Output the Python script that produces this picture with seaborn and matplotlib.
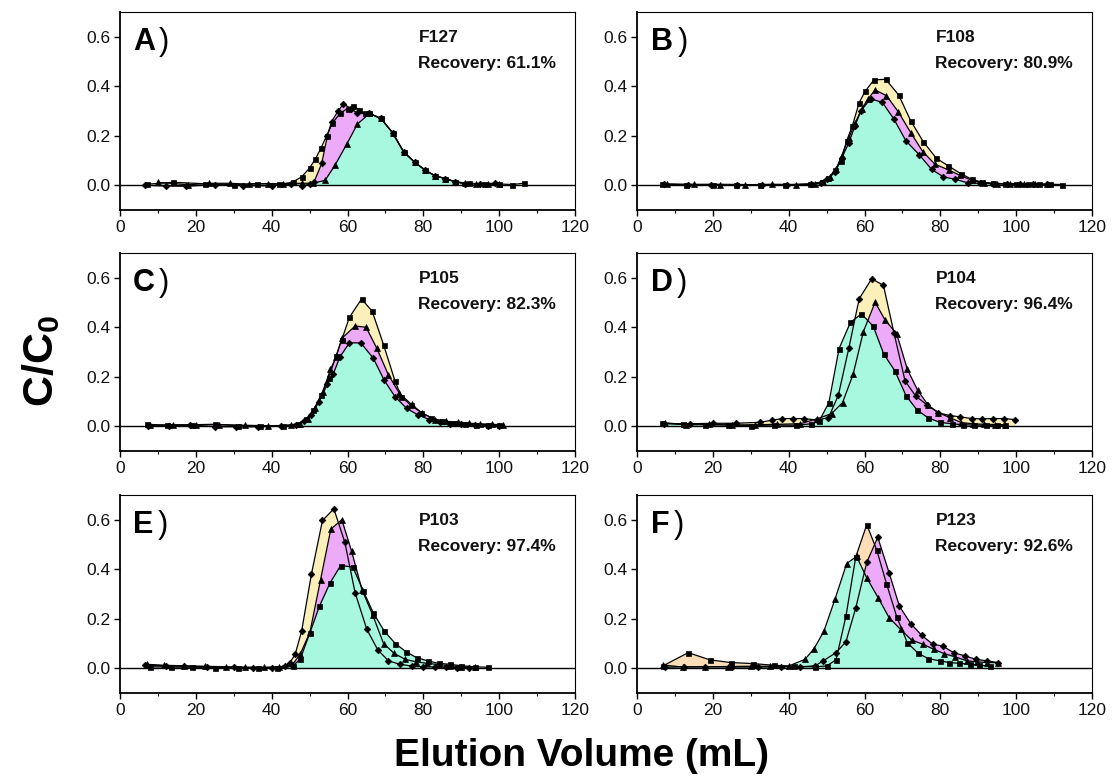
import matplotlib
matplotlib.use("Agg")
import matplotlib.pyplot as plt
import seaborn as sns
from matplotlib.ticker import MultipleLocator, FormatStrFormatter

# ---------------- data ----------------
# Panel A: F127
A_sq_x = [7, 14, 22.5, 30, 36, 42, 45.5, 48, 50, 51.5, 53, 54.5, 56, 58, 60, 61.5, 63, 64.5,
          65.8, 68.8, 71.9, 74.8, 77.8, 80.5, 83.1, 85.8, 88.4, 92, 96, 100, 103.5, 106.5]
A_sq_y = [0.004, 0.012, 0.006, 0.002, 0.007, 0.004, 0.012, 0.035, 0.07, 0.105, 0.15, 0.20, 0.25, 0.29,
          0.31, 0.322, 0.305, 0.29, 0.29, 0.27, 0.212, 0.135, 0.092, 0.061, 0.038, 0.027, 0.014, 0.008,
          0.006, 0.005, 0.003, 0.008]
A_di_x = [6.5, 12, 17.5, 25, 32.5, 40, 45, 48, 50, 51.2, 53.2, 54.7, 55.8, 57.5, 58.9, 61, 62.6,
          65.8, 68.8, 71.9, 74.8, 77.8, 80.5, 83.1, 85.8, 88.4, 91, 95, 99]
A_di_y = [0.0, -0.003, -0.004, 0.003, -0.002, -0.002, 0.005, -0.003, 0.005, 0.014, 0.088, 0.20, 0.257,
          0.30, 0.328, 0.31, 0.29, 0.29, 0.27, 0.212, 0.135, 0.092, 0.061, 0.038, 0.027, 0.014, 0.005,
          0.006, 0.008]
A_tr_x = [10, 18, 23.5, 29, 34, 39, 43, 48, 51, 54.1, 56.7, 59.8, 62.6, 65.8, 68.8, 71.9, 74.8, 77.8,
          80.5, 83.1, 85.8, 88.4, 91, 94, 97, 100]
A_tr_y = [0.012, 0.002, 0.008, 0.008, 0.004, 0.007, 0.006, 0.008, 0.008, 0.02, 0.081, 0.166, 0.247, 0.29,
          0.27, 0.212, 0.135, 0.092, 0.061, 0.038, 0.027, 0.014, 0.008, 0.005, 0.004, 0.004]

# Panel B: F108
B_sq_x = [6.5, 13, 20, 26, 32.5, 39, 45.5, 48.7, 50.5, 52.2, 53.8, 55.3, 56.8, 58.6, 60.2, 62.5, 65.6,
          69, 72.2, 75.5, 78.9, 82.1, 85.4, 88.3, 91, 94, 97, 100, 103, 106, 109, 112]
B_sq_y = [0.004, 0.002, 0.003, 0.003, 0.002, 0.002, 0.005, 0.013, 0.03, 0.06, 0.10, 0.18, 0.24, 0.334,
          0.38, 0.426, 0.428, 0.365, 0.26, 0.176, 0.11, 0.078, 0.047, 0.024, 0.012, 0.008, 0.006, 0.005,
          0.005, 0.004, 0.004, 0.003]
B_tr_x = [8, 15, 22, 28.5, 35.5, 42, 47, 49, 51, 52.5, 54, 55.8, 57.5, 59.3, 61, 62.8, 65.8, 68.9,
          72.3, 75.4, 78.6, 82.3, 85.2, 88.3, 91.5, 95, 98.5, 102, 105, 108]
B_tr_y = [0.005, 0.004, 0.003, 0.002, 0.004, 0.003, 0.006, 0.015, 0.035, 0.065, 0.12, 0.19, 0.25, 0.31,
          0.35, 0.385, 0.362, 0.297, 0.21, 0.135, 0.085, 0.061, 0.04, 0.02, 0.01, 0.007, 0.006, 0.005,
          0.005, 0.004]
B_di_x = [7, 13.5, 19.5, 26.5, 33, 39.5, 46, 48.5, 50.2, 52.2, 54, 55.8, 57.5, 59, 61.6, 64.7, 67.8,
          70.9, 74.5, 77.7, 80.8, 83.9, 87.4, 90.5, 94, 97.5, 101, 104.5, 108]
B_di_y = [0.004, 0.002, 0.003, 0.003, 0.002, 0.002, 0.004, 0.01, 0.025, 0.052, 0.11, 0.17, 0.24, 0.30,
          0.349, 0.335, 0.266, 0.18, 0.122, 0.064, 0.034, 0.024, 0.009, 0.008, 0.006, 0.005, 0.005,
          0.004, 0.004]

# Panel C: P105
C_sq_x = [7, 12.5, 19, 25, 31, 37, 43, 47, 49, 51, 53, 55, 57, 58.5, 60.5, 63.7, 66.5, 69.5, 72.5,
          74.2, 76.7, 79.5, 82, 85, 88, 91, 94, 97, 100]
C_sq_y = [0.008, 0.004, 0.006, 0.008, 0.002, 0.001, 0.002, 0.01, 0.028, 0.065, 0.125, 0.195, 0.285,
          0.35, 0.44, 0.514, 0.465, 0.33, 0.184, 0.12, 0.085, 0.055, 0.035, 0.02, 0.012, 0.009, 0.007,
          0.006, 0.005]
C_tr_x = [8, 14, 20, 26, 33, 39, 45, 47.5, 49.5, 51.5, 53.5, 55.5, 57, 58.5, 62, 64.9, 67.7, 70.8,
          73.7, 76.9, 79.6, 83.1, 86, 89.2, 92, 95, 98, 101]
C_tr_y = [0.004, 0.006, 0.005, 0.007, 0.004, 0.002, 0.004, 0.01, 0.03, 0.075, 0.14, 0.23, 0.28, 0.355,
          0.405, 0.4, 0.316, 0.207, 0.133, 0.088, 0.054, 0.027, 0.02, 0.016, 0.012, 0.01, 0.008, 0.006]
C_di_x = [7.5, 13, 18.5, 25, 30.5, 36.5, 42.5, 46.5, 48.5, 50.5, 52.5, 54.7, 56.2, 58, 60.5, 63.5,
          66.8, 69.6, 72.5, 75.6, 78.7, 81.6, 84.4, 87, 90, 93.5, 97, 100]
C_di_y = [0.002, 0.003, 0.004, -0.002, -0.002, -0.002, 0.0, 0.005, 0.02, 0.045, 0.1, 0.17, 0.21, 0.28,
          0.337, 0.337, 0.275, 0.188, 0.12, 0.072, 0.045, 0.027, 0.016, 0.01, 0.008, 0.005, 0.003, 0.002]

# Panel D: P104
D_di_x = [7, 14, 20, 26, 32.4, 35.5, 38.3, 41.2, 44.1, 47.4, 50.5, 53.1, 55.9, 58.6, 61.9, 65, 67.8,
          70.7, 73.5, 76.6, 79.5, 82.6, 85.2, 88.3, 90.9, 94, 96.7, 99.7]
D_di_y = [0.01, 0.01, 0.012, 0.012, 0.016, 0.024, 0.031, 0.031, 0.031, 0.025, 0.035, 0.125, 0.318, 0.515,
          0.596, 0.569, 0.375, 0.183, 0.122, 0.085, 0.054, 0.043, 0.038, 0.031, 0.03, 0.031, 0.031, 0.027]
D_tr_x = [7.5, 13, 19, 25, 31, 37, 43, 47.5, 51.3, 54.2, 57, 59.7, 62.8, 65.4, 68.5, 71.3, 74, 76.8,
          79.5, 82.5, 85.5, 88.5, 91.5, 94.5, 97]
D_tr_y = [0.012, 0.006, 0.008, 0.005, 0.006, 0.008, 0.01, 0.03, 0.051, 0.095, 0.21, 0.382, 0.501, 0.43,
          0.373, 0.23, 0.146, 0.085, 0.055, 0.035, 0.015, 0.01, 0.008, 0.007, 0.006]
D_sq_x = [6.5, 12, 18, 24, 30, 36, 42, 46, 48, 50.6, 53.3, 56.3, 59.2, 62.3, 65.1, 68, 71, 73.9, 76.8,
          79.8, 83, 86, 89, 92, 95, 97]
D_sq_y = [0.015, 0.008, 0.006, 0.005, 0.003, 0.005, 0.004, 0.01, 0.02, 0.095, 0.314, 0.42, 0.454, 0.404,
          0.291, 0.224, 0.122, 0.065, 0.034, 0.016, 0.01, 0.006, 0.005, 0.004, 0.004, 0.004]

# Panel E: P103
E_di_x = [6.5, 12, 17, 23, 30, 35, 40, 43.5, 44.8, 46.2, 47.9, 50.5, 53.4, 56.4, 59.3, 62, 65.1, 68,
          70.8, 73.8, 76.9, 80, 83, 86, 89, 92]
E_di_y = [0.014, 0.01, 0.008, 0.006, 0.004, 0.003, 0.003, 0.008, 0.023, 0.056, 0.15, 0.381, 0.597, 0.644,
          0.509, 0.305, 0.157, 0.074, 0.03, 0.016, 0.009, 0.006, 0.005, 0.004, 0.003, 0.002]
E_tr_x = [7, 11.5, 17, 22.5, 28, 33, 38, 42, 45.5, 47.5, 50.1, 52.9, 55.6, 58.5, 61.1, 63.8, 66.6, 69.5,
          72.3, 75.2, 78.1, 80.9, 84, 87, 90, 93.5]
E_tr_y = [0.016, 0.012, 0.01, 0.008, 0.006, 0.004, 0.004, 0.005, 0.015, 0.056, 0.146, 0.358, 0.562, 0.6,
          0.472, 0.318, 0.217, 0.1, 0.06, 0.036, 0.026, 0.02, 0.015, 0.01, 0.006, 0.004]
E_sq_x = [8, 13.5, 19, 25, 31, 36.5, 41.5, 45.5, 47.5, 50.1, 52.6, 55.4, 58.2, 61.4, 64.2, 66.8, 69.7,
          72.6, 75.5, 78.2, 81.1, 84, 87, 90, 93.5, 97]
E_sq_y = [0.006, 0.005, 0.004, 0.003, 0.003, 0.002, 0.003, 0.008, 0.036, 0.144, 0.251, 0.345, 0.415,
          0.409, 0.311, 0.224, 0.15, 0.1, 0.066, 0.043, 0.03, 0.02, 0.016, 0.01, 0.006, 0.004]

# Panel F: P123
F_sq_x = [6.9, 13.5, 19.2, 24.7, 30.5, 36, 41.5, 47, 50, 52.5, 55.1, 57.7, 60.6, 63.2, 65.8, 68.5,
          71.3, 74.2, 76.8, 79.8, 82.4, 85, 87.7, 90.3, 93]
F_sq_y = [0.01, 0.063, 0.034, 0.023, 0.019, 0.012, 0.008, 0.006, 0.009, 0.034, 0.21, 0.45, 0.58, 0.479,
          0.342, 0.208, 0.103, 0.06, 0.039, 0.03, 0.023, 0.02, 0.016, 0.012, 0.009]
F_di_x = [7.5, 12.5, 18, 25, 32, 38, 43, 47, 49.1, 52.5, 55.1, 57.7, 60.6, 63.5, 66.5, 69.2, 72.2,
          75.1, 78, 80.6, 83.5, 86.5, 89.4, 92.3, 95.1]
F_di_y = [0.004, 0.006, 0.006, 0.005, 0.005, 0.006, 0.005, 0.01, 0.03, 0.063, 0.107, 0.244, 0.428,
          0.529, 0.385, 0.251, 0.18, 0.133, 0.097, 0.09, 0.063, 0.05, 0.036, 0.03, 0.023]
F_tr_x = [6.9, 12, 18, 24, 30, 35, 40, 44.3, 46.7, 49.3, 52.2, 55.3, 57.9, 60.6, 63.6, 66.5, 69.5,
          72.4, 75.4, 78.2, 81, 83.9, 87, 89.6, 92.3, 95.3]
F_tr_y = [0.013, 0.005, 0.006, 0.007, 0.008, 0.008, 0.009, 0.036, 0.079, 0.15, 0.278, 0.423, 0.452,
          0.365, 0.285, 0.204, 0.157, 0.114, 0.097, 0.077, 0.059, 0.046, 0.03, 0.026, 0.023, 0.023]

panel_letters = ["A", "B", "C", "D", "E", "F"]
polymer_names = ["F127", "F108", "P105", "P104", "P103", "P123"]
recoveries = ["61.1%", "80.9%", "82.3%", "96.4%", "97.4%", "92.6%"]

x_ticks = [0, 20, 40, 60, 80, 100, 120]
y_ticks = [0.0, 0.2, 0.4, 0.6]

# ---------------- styling ----------------
YELLOW = "#FBF0BA"
PEACH = "#FCDDB8"
PINK = "#ECAAF8"
GREEN = "#A8F7DF"

sns.set_theme(style="ticks")
plt.rcParams['font.family'] = ['Liberation Sans', 'DejaVu Sans']
plt.rcParams['mathtext.fontset'] = 'custom'
plt.rcParams['mathtext.rm'] = 'Liberation Sans'
plt.rcParams['mathtext.bf'] = 'Liberation Sans:bold'
plt.rcParams['mathtext.it'] = 'Liberation Sans:italic'
plt.rcParams['text.color'] = 'black'
plt.rcParams['axes.labelcolor'] = 'black'
plt.rcParams['xtick.color'] = 'black'
plt.rcParams['ytick.color'] = 'black'

# series in back-to-front fill order: (x, y, marker, fill colour)
panel_series = [
    [(A_sq_x, A_sq_y, 's', YELLOW), (A_di_x, A_di_y, 'D', PINK), (A_tr_x, A_tr_y, '^', GREEN)],
    [(B_sq_x, B_sq_y, 's', YELLOW), (B_tr_x, B_tr_y, '^', PINK), (B_di_x, B_di_y, 'D', GREEN)],
    [(C_sq_x, C_sq_y, 's', YELLOW), (C_tr_x, C_tr_y, '^', PINK), (C_di_x, C_di_y, 'D', GREEN)],
    [(D_di_x, D_di_y, 'D', YELLOW), (D_tr_x, D_tr_y, '^', PINK), (D_sq_x, D_sq_y, 's', GREEN)],
    [(E_di_x, E_di_y, 'D', YELLOW), (E_tr_x, E_tr_y, '^', PINK), (E_sq_x, E_sq_y, 's', GREEN)],
    [(F_sq_x, F_sq_y, 's', PEACH), (F_di_x, F_di_y, 'D', PINK), (F_tr_x, F_tr_y, '^', GREEN)],
]

fig = plt.figure(figsize=(11.12, 7.76), dpi=100)
W, H = 1112.0, 776.0
col_left = [120 / W, 637 / W]
col_w = 455 / W
row_bottom = [1 - 210 / H, 1 - 451 / H, 1 - 693 / H]
row_h = 198 / H

marker_sizes = {'s': 3.6, 'D': 3.4, '^': 4.2}

for i in range(6):
    r, c = divmod(i, 2)
    ax = fig.add_axes([col_left[c], row_bottom[r], col_w, row_h])
    series = panel_series[i]
    for (x, y, m, fc) in series:
        ax.fill_between(x, 0, y, color=fc, linewidth=0, zorder=1)
    ax.axhline(0, color='black', linewidth=1.0, zorder=2)
    for (x, y, m, fc) in series:
        sns.lineplot(x=x, y=y, ax=ax, color='black', linewidth=0.9, marker=m,
                     markersize=marker_sizes[m], markeredgecolor='black',
                     markerfacecolor='black', markeredgewidth=0.5,
                     sort=False, estimator=None, zorder=3)
    ax.set_xlim(0, 120)
    ax.set_ylim(-0.1, 0.7)
    ax.set_xticks(x_ticks)
    ax.set_yticks(y_ticks)
    ax.xaxis.set_minor_locator(MultipleLocator(10))
    ax.yaxis.set_major_formatter(FormatStrFormatter('%.1f'))
    ax.tick_params(axis='both', which='major', direction='out', length=4, width=1.0,
                   labelsize=12.5, pad=3, colors='black', labelcolor='#111111')
    ax.tick_params(axis='x', which='minor', direction='out', length=2.5, width=0.8)
    ax.tick_params(top=False, right=False)
    for s in ['left', 'bottom']:
        ax.spines[s].set_linewidth(1.3)
    for s in ['top', 'right']:
        ax.spines[s].set_linewidth(0.8)
    for s in ax.spines.values():
        s.set_color('black')
    ax.set_xlabel('')
    ax.set_ylabel('')

    lx = 0.028 if c == 0 else 0.031
    t = ax.text(lx, 0.808, panel_letters[i], transform=ax.transAxes, fontsize=22,
                fontweight='bold', va='baseline', ha='left', color='black')
    ax.annotate(")", xy=(1, 0), xycoords=t, xytext=(3, 0), textcoords='offset points',
                fontsize=22, fontweight='normal', va='bottom', ha='left', color='black')
    ax.text(0.656, 0.85, polymer_names[i], transform=ax.transAxes, fontsize=12.5,
            fontweight='bold', va='baseline', ha='left', color='#111111')
    ax.text(0.656, 0.716, "Recovery: " + recoveries[i], transform=ax.transAxes, fontsize=12.5,
            fontweight='bold', va='baseline', ha='left', color='#111111')

fig.text(0.037, 0.535, r"C/C$_\mathbf{0}$", rotation=90, fontsize=31, fontweight='bold',
         ha='center', va='center', color='black')
fig.text(0.523, 0.026, "Elution Volume (mL)", fontsize=28, fontweight='bold',
         ha='center', va='center', color='black')

fig.savefig("out.png", dpi=100)
